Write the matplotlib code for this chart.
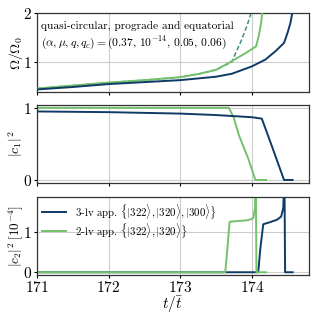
import matplotlib
matplotlib.use("Agg")
import matplotlib.pyplot as plt

plt.rcParams['font.family'] = 'serif'
plt.rcParams['font.serif'] = ['cmr10', 'DejaVu Serif']
plt.rcParams['mathtext.fontset'] = 'cm'
plt.rcParams['axes.formatter.use_mathtext'] = True

# colours
blue = '#0f3a66'
green = '#74c16c'
teal = '#3e8d86'

# top panel: Omega / Omega_0
t_om_3lv = [171.0, 171.5, 172.0, 172.5, 173.0, 173.5, 173.72, 174.0, 174.19, 174.33, 174.45, 174.5, 174.54, 174.57]
om_3lv = [0.44, 0.49, 0.55, 0.59, 0.63, 0.70, 0.76, 0.91, 1.05, 1.22, 1.39, 1.60, 1.80, 2.05]
t_om_2lv = [171.0, 171.5, 172.0, 172.5, 173.0, 173.27, 173.5, 173.7, 173.9, 174.06, 174.1, 174.13, 174.15]
om_2lv = [0.46, 0.52, 0.58, 0.63, 0.69, 0.76, 0.84, 1.00, 1.17, 1.32, 1.55, 1.80, 2.05]
t_om_dash = [171.0, 171.5, 172.0, 172.5, 173.0, 173.27, 173.5, 173.72, 173.86, 173.94, 174.0]
om_dash = [0.46, 0.52, 0.58, 0.63, 0.69, 0.76, 0.84, 1.00, 1.46, 1.77, 2.05]

# middle panel: |c1|^2
t_c1_3lv = [171.0, 172.0, 173.0, 173.5, 174.0, 174.14, 174.28, 174.45, 174.57]
c1_3lv = [0.95, 0.94, 0.92, 0.90, 0.87, 0.85, 0.47, 0.0, 0.0]
t_c1_2lv = [171.0, 173.68, 173.75, 173.82, 173.95, 174.05, 174.2]
c1_2lv = [1.0, 1.0, 0.86, 0.62, 0.30, 0.0, 0.0]

# bottom panel: |c2|^2 in units of 1e-4
t_c2_3lv = [171.0, 174.09, 174.12, 174.16, 174.25, 174.35, 174.41, 174.44, 174.455, 174.465, 174.57]
c2_3lv = [0.0, 0.0, 0.6, 1.19, 1.24, 1.3, 1.38, 1.6, 2.5, 0.0, 0.0]
t_c2_2lv = [171.0, 173.63, 173.66, 173.69, 173.8, 173.95, 174.02, 174.045, 174.055, 174.065, 174.2]
c2_2lv = [0.0, 0.0, 0.6, 1.25, 1.27, 1.29, 1.34, 1.6, 2.5, 0.0, 0.0]

leg_3lv = r'3-lv app. $\{|322\rangle,|320\rangle,|300\rangle\}$'
leg_2lv = r'2-lv app. $\{|322\rangle,|320\rangle\}$'

fig = plt.figure(figsize=(3.18, 3.18), dpi=100)
ax1 = fig.add_axes([0.116, 0.711, 0.856, 0.248])
ax2 = fig.add_axes([0.116, 0.425, 0.856, 0.245])
ax3 = fig.add_axes([0.116, 0.135, 0.856, 0.246])

lw = 1.4
ax1.plot(t_om_dash, om_dash, color=teal, lw=1.1, ls=(0, (3, 1.6)), zorder=2)
ax1.plot(t_om_2lv, om_2lv, color=green, lw=lw, zorder=3)
ax1.plot(t_om_3lv, om_3lv, color=blue, lw=lw, zorder=4)
ax1.set_ylim(0.39, 2.0)
ax1.set_yticks([1, 2])
ax1.set_ylabel(r'$\Omega/\Omega_0$', fontsize=10)
ax1.text(171.06, 1.74, 'quasi-circular, prograde and equatorial', fontsize=8.2, va='center')
ax1.text(171.06, 1.37, r'$(\alpha,\mu,q,q_c)=(0.37,\,10^{-14},\,0.05,\,0.06)$', fontsize=8.3, va='center')

ax2.plot(t_c1_2lv, c1_2lv, color=green, lw=lw)
ax2.plot(t_c1_3lv, c1_3lv, color=blue, lw=lw)
ax2.set_ylim(-0.04, 1.04)
ax2.set_yticks([0, 1])
ax2.set_ylabel(r'$|c_1|^2$', fontsize=10)

ax3.plot(t_c2_3lv, c2_3lv, color=blue, lw=lw, label=leg_3lv)
ax3.plot(t_c2_2lv, c2_2lv, color=green, lw=lw, label=leg_2lv)
ax3.set_ylim(-0.07, 1.87)
ax3.set_yticks([0, 1])
ax3.set_ylabel(r'$|c_2|^2\;[10^{-4}]$', fontsize=9.5)
ax3.set_xlabel(r'$t/\bar{t}$', fontsize=11, labelpad=0)
ax3.legend(loc='upper left', frameon=False, fontsize=7.8, handlelength=2.2,
           borderaxespad=0.1, labelspacing=0.0)

for ax in (ax1, ax2, ax3):
    ax.set_xlim(171, 174.8)
    ax.set_xticks([171, 172, 173, 174])
    ax.grid(True, color='#cccccc', lw=0.8)
    ax.set_axisbelow(True)
    ax.tick_params(labelsize=11, length=2.5, width=0.8, pad=1)
    ax.yaxis.set_label_coords(-0.045, 0.5)
    for s in ax.spines.values():
        s.set_color('#333333')
        s.set_linewidth(0.9)
    if ax is not ax3:
        ax.tick_params(labelbottom=False)

fig.savefig('out.png', dpi=100)
